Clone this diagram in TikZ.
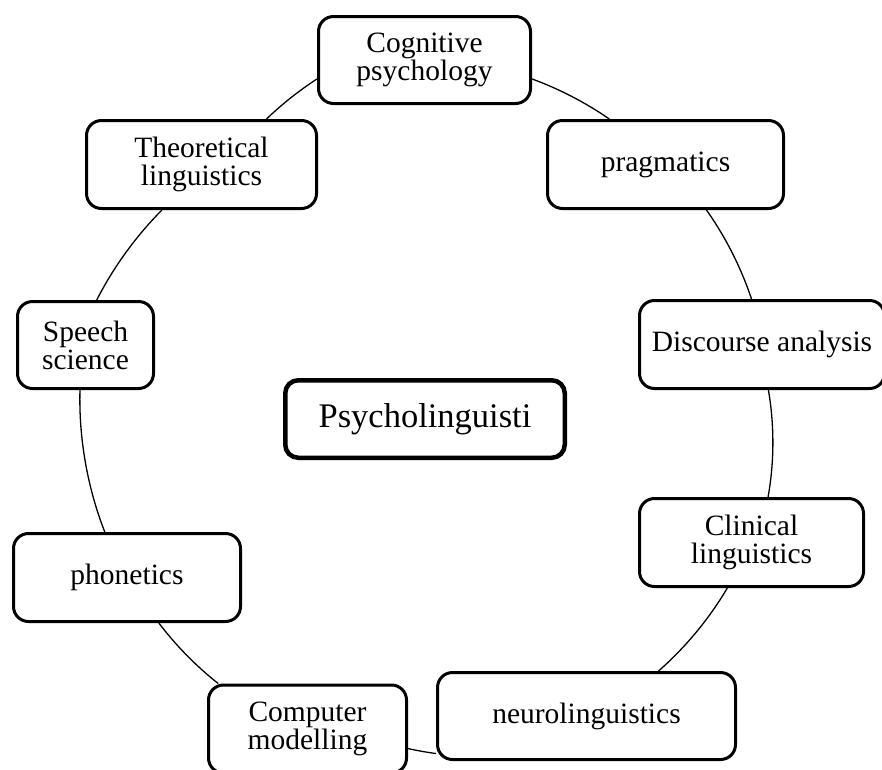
\documentclass[tikz,border=0pt]{standalone}
\usepackage{fontspec}
\setmainfont{Liberation Serif}
\usetikzlibrary{calc}

\tikzset{
  topic/.style={draw, line width=3pt, rounded corners=15pt, fill=white,
    align=center, inner sep=0pt, font=\fontsize{29.5}{28}\selectfont},
  hub/.style={draw, line width=4.5pt, rounded corners=13pt, fill=white,
    inner sep=0pt, font=\fontsize{34.5}{36}\selectfont},
  link/.style={line width=1.3pt, looseness=0.85},
}

\begin{document}
\begin{tikzpicture}[x=1pt,y=1pt]
\useasboundingbox (0,-769) rectangle (882,0);

% central topic
\node[hub, minimum width=279.5pt, minimum height=77.5pt] (psy) at (425,-419) {Psycholinguisti};

% surrounding fields, clockwise from the top
\node[topic, minimum width=212pt, minimum height=87pt] (cog)    at (424.5,-60)   {Cognitive\\psychology};
\node[topic, minimum width=236pt, minimum height=88pt] (prag)   at (665.5,-164.5) {pragmatics};
\node[topic, minimum width=245pt, minimum height=88pt] (disc)   at (762,-344.5)  {Discourse analysis};
\node[topic, minimum width=224pt, minimum height=88pt] (clin)   at (751.5,-542.5) {Clinical\\linguistics};
\node[topic, minimum width=298pt, minimum height=87pt] (neuro)  at (586.5,-716)  {neurolinguistics};
\node[topic, minimum width=198pt, minimum height=88pt] (comp)   at (307.5,-729)  {Computer\\modelling};
\node[topic, minimum width=227pt, minimum height=88pt] (phon)   at (127,-577.5)  {phonetics};
\node[topic, minimum width=136pt, minimum height=87pt] (speech) at (85.5,-345)   {Speech\\science};
\node[topic, minimum width=230pt, minimum height=88pt] (theo)   at (201.5,-164.5) {Theoretical\\linguistics};

% ring of arcs joining neighbouring fields
\draw[link] (theo.35)     to[bend left=5.4]  (cog.190);
\draw[link] (cog.-10)     to[bend left=7.3]  (prag.141.5);
\draw[link] (prag.-48)    to[bend left=8.4]  (disc.103);
\draw[link] (disc.-82)    to[bend left=10]   (clin.70.5);
\draw[link] (clin.-118)   to[bend left=9.1]  (neuro.32.5);
\draw[link] (neuro.194.5) to[bend left=2.5]  (comp.-11);
\draw[link] (comp.153)    to[bend left=7.3]  (phon.-55);
\draw[link] (phon.116)    to[bend left=11.5] (speech.-97);
\draw[link] (speech.76)   to[bend left=8.9]  (theo.229);
\end{tikzpicture}
\end{document}
